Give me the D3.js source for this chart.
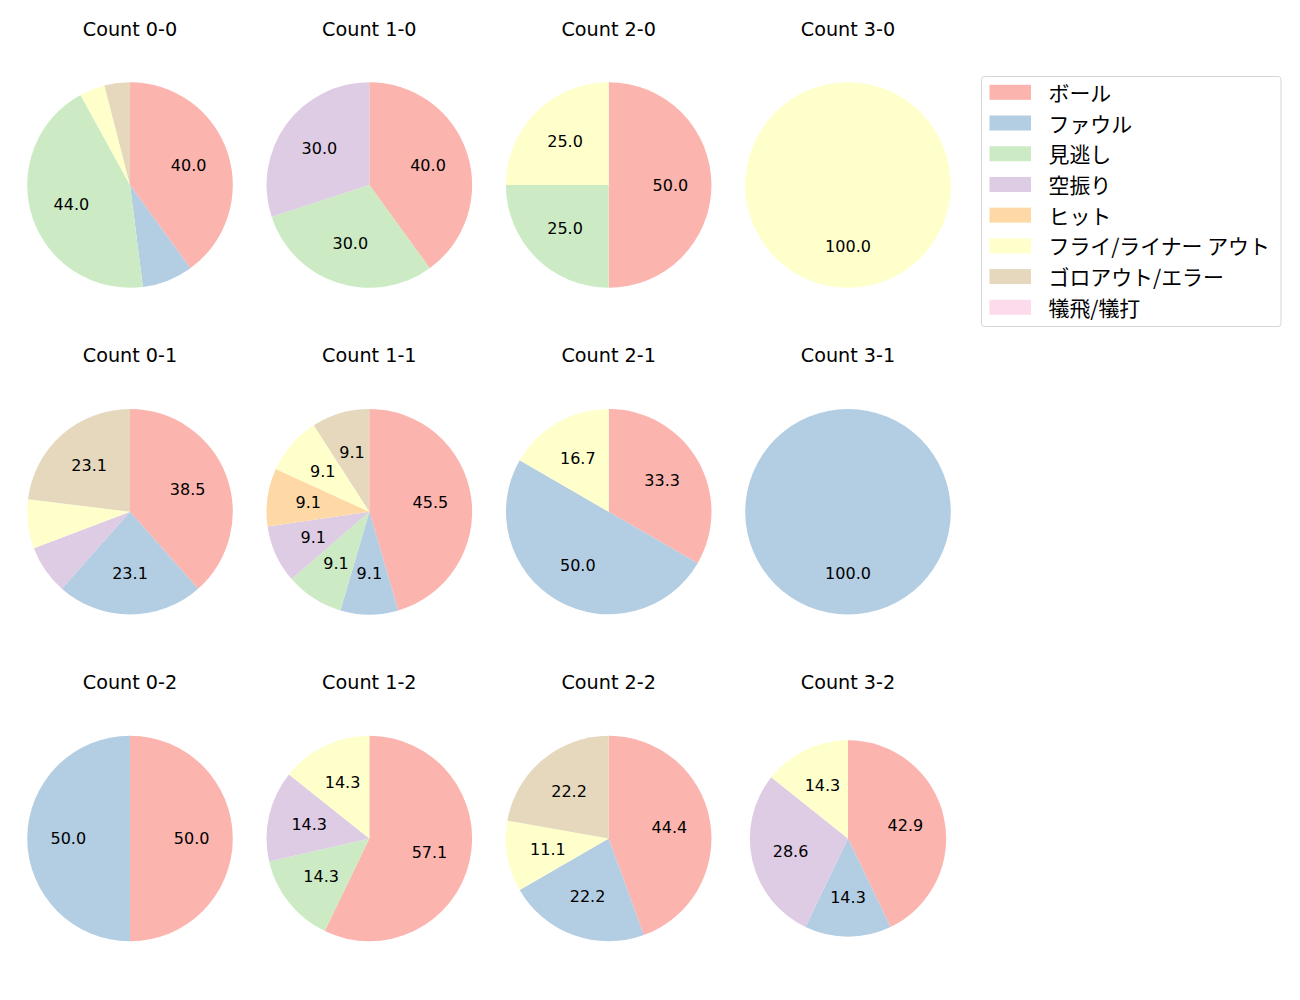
<!DOCTYPE html>
<html>
<head>
<meta charset="utf-8">
<script src="https://cdn.jsdelivr.net/npm/d3@7"></script>
<style>
  body { margin: 0; background: #fff; }
  svg { display: block; font-family: "DejaVu Sans", sans-serif; }
  .jp { font-family: "Noto Sans CJK JP", "DejaVu Sans", sans-serif; }
</style>
</head>
<body>
<svg id="chart" width="1300" height="1000"></svg>
<script>
// ---- data ----
const countLabels = ["0-0", "1-0", "2-0", "3-0", "0-1", "1-1", "2-1", "3-1", "0-2", "1-2", "2-2", "3-2"];
const categories = ["ボール", "ファウル", "見逃し", "空振り", "ヒット", "フライ/ライナー アウト", "ゴロアウト/エラー", "犠飛/犠打"];
const ball     = [10, 4, 2, 0, 5, 5, 2, 0, 1, 4, 4, 3];
const foul     = [2, 0, 0, 0, 3, 1, 3, 1, 1, 0, 2, 1];
const looking  = [11, 3, 1, 0, 0, 1, 0, 0, 0, 1, 0, 0];
const swinging = [0, 3, 0, 0, 1, 1, 0, 0, 0, 1, 0, 2];
const hit      = [0, 0, 0, 0, 0, 1, 0, 0, 0, 0, 0, 0];
const flyOut   = [1, 0, 1, 1, 1, 1, 1, 0, 0, 1, 1, 1];
const groundOut= [1, 0, 0, 0, 3, 1, 0, 0, 0, 0, 2, 0];
const sacrifice= [0, 0, 0, 0, 0, 0, 0, 0, 0, 0, 0, 0];
const colors = ["#fbb4ae", "#b3cde3", "#ccebc5", "#decbe4", "#fed9a6", "#ffffcc", "#e5d8bd", "#fddaec"];

const series = [ball, foul, looking, swinging, hit, flyOut, groundOut, sacrifice];

// ---- layout ----
const svg = d3.select("#chart");
const colX = d3.scaleLinear().domain([0, 3]).range([130, 848]);
const rowY = d3.scaleLinear().domain([0, 2]).range([185, 838.5]);
const R = 102.8;
const radiusScale = [1, 1, 1, 1, 1, 1, 1, 1, 1, 1, 1, 0.955];
const color = d3.scaleOrdinal().domain(categories).range(colors);

const pie = d3.pie().sort(null).value(d => d.value).startAngle(0).endAngle(2 * Math.PI);

countLabels.forEach((lab, i) => {
  const col = i % 4, row = Math.floor(i / 4);
  const cx = colX(col), cy = rowY(row);
  const r = R * radiusScale[i];
  const data = categories.map((c, k) => ({ cat: c, value: series[k][i] }));
  const total = d3.sum(data, d => d.value);
  const g = svg.append("g").attr("transform", `translate(${cx},${cy})`);
  const arc = d3.arc().innerRadius(0).outerRadius(r);
  const labelArc = d3.arc().innerRadius(r * 0.6).outerRadius(r * 0.6);
  const arcs = pie(data).filter(d => d.value > 0);
  g.selectAll("path").data(arcs).enter().append("path")
    .attr("d", arc)
    .attr("fill", d => color(d.data.cat));
  g.selectAll("text.pct").data(arcs.filter(d => d.value / total * 100 >= 9)).enter().append("text")
    .attr("class", "pct")
    .attr("transform", d => `translate(${labelArc.centroid(d)})`)
    .attr("text-anchor", "middle")
    .attr("dominant-baseline", "central")
    .attr("font-size", "16px")
    .attr("fill", "#000")
    .text(d => (d.value / total * 100).toFixed(1));
  svg.append("text")
    .attr("x", cx).attr("y", cy - 156)
    .attr("text-anchor", "middle")
    .attr("dominant-baseline", "central")
    .attr("font-size", "19.2px")
    .attr("fill", "#000")
    .text("Count " + lab);
});

// ---- legend ----
const lg = svg.append("g").attr("transform", "translate(981.5,76.5)");
lg.append("rect").attr("width", 299.5).attr("height", 250)
  .attr("rx", 3).attr("fill", "#fff").attr("stroke", "#d6d6d6").attr("stroke-width", 1);
const ly = d3.scaleLinear().domain([0, 7]).range([15.8, 230.8]);
categories.forEach((c, k) => {
  lg.append("rect").attr("x", 8).attr("y", ly(k) - 7.5).attr("width", 41.5).attr("height", 15)
    .attr("fill", color(c));
  lg.append("text").attr("class", "jp").attr("x", 67).attr("y", ly(k) - 0.5)
    .attr("dominant-baseline", "central")
    .attr("font-size", "20.9px").attr("fill", "#000").text(c);
});
</script>
</body>
</html>
